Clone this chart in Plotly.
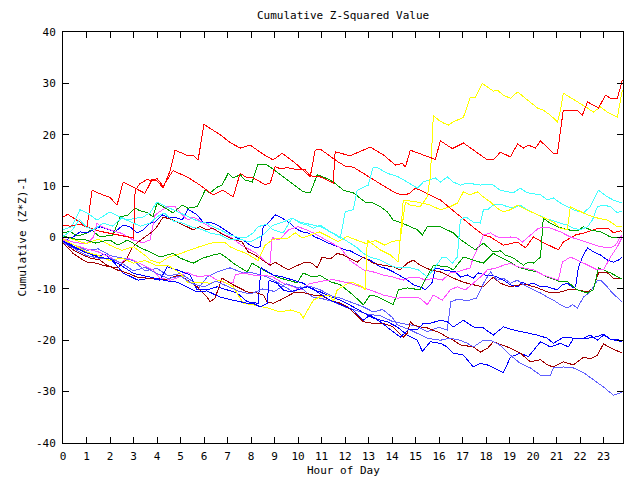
import plotly.graph_objects as go

# ---------------- data (hour of day, cumulative (Z*Z)-1) ----------------
hour_ticks = list(range(24))
value_ticks = [-40, -30, -20, -10, 0, 10, 20, 30, 40]

red1_h = [0, 0.2, 0.72, 1.02, 1.24, 1.58, 2.0, 2.3, 2.56, 2.98, 3.49, 3.79, 4.0, 4.26, 4.56, 4.77, 5.28, 5.54, 5.75, 6.0, 6.39, 6.69, 7.11, 7.54, 7.96, 8.52, 8.94, 9.33, 9.88, 10.52, 10.73, 10.95, 11.71, 12.01, 12.35, 13.07, 13.8, 14.22, 14.57, 14.78, 14.99, 15.2, 15.76, 16.06, 16.48, 16.91, 17.46, 17.89, 18.19, 18.74, 19.34, 19.68, 20.02, 20.4, 21.08, 21.29, 21.81, 22.19, 22.79, 23.21, 23.42, 23.72, 23.8]
red1_v = [4.0, 4.5, 3.0, 2.0, 9.2, 8.5, 7.8, 6.3, 10.8, 9.8, 8.6, 11.3, 11.0, 9.7, 13.0, 17.0, 16.0, 16.0, 15.1, 22.0, 20.8, 20.0, 18.5, 17.4, 18.0, 16.2, 15.1, 16.4, 14.5, 11.8, 17.0, 17.2, 14.7, 13.9, 13.7, 11.6, 9.6, 8.5, 8.3, 8.7, 9.6, 9.2, 7.9, 7.3, 5.7, 4.0, 2.0, 0.5, 0.1, -1.5, -0.9, -2.0, 0.1, -0.9, -2.4, -0.9, 0.5, 0.9, 1.8, 1.8, 0.9, 1.3, 1.2]

red2_h = [0, 0.3, 0.72, 1.02, 1.58, 2.0, 2.43, 3.0, 3.07, 3.28, 3.58, 3.79, 4.0, 4.26, 4.68, 5.28, 5.83, 6.39, 6.81, 7.24, 7.54, 7.84, 8.09, 8.6, 8.82, 9.03, 9.24, 9.54, 9.97, 10.3, 10.52, 10.95, 11.5, 11.58, 12.22, 12.65, 13.07, 13.63, 14.14, 14.44, 14.57, 14.78, 15.5, 15.84, 16.06, 16.57, 17.04, 18.06, 18.31, 18.61, 19.04, 19.34, 19.59, 19.8, 20.1, 20.32, 20.87, 21.04, 21.29, 21.89, 22.1, 22.32, 22.79, 23.08, 23.3, 23.59, 23.8]
red2_v = [2.4, 2.2, 2.6, 2.0, 1.2, 0.8, 0.5, -0.1, 9.2, 10.5, 11.3, 11.0, 11.5, 10.0, 13.0, 11.8, 10.2, 8.3, 9.2, 7.9, 12.5, 11.6, 11.6, 10.3, 10.6, 13.8, 13.4, 13.6, 13.2, 13.2, 12.0, 11.8, 10.6, 16.7, 15.9, 16.7, 17.6, 16.1, 14.1, 14.4, 13.7, 17.0, 15.7, 15.2, 18.8, 17.3, 18.4, 15.1, 15.1, 16.6, 15.7, 18.2, 17.4, 18.0, 17.4, 18.8, 16.4, 16.4, 24.8, 24.8, 23.8, 26.4, 25.2, 27.7, 27.1, 27.1, 30.6]

green1_h = [0, 0.3, 0.6, 1.0, 1.2, 1.58, 2.13, 2.43, 2.77, 3.07, 3.28, 3.62, 3.83, 4.0, 4.26, 4.68, 5.07, 5.32, 5.71, 6.05, 6.26, 6.56, 6.77, 7.03, 7.24, 7.54, 7.75, 8.05, 8.3, 8.6, 8.82, 9.11, 9.37, 9.67, 9.97, 10.22, 10.52, 10.82, 10.95, 11.37, 11.67, 11.93, 12.35, 12.65, 12.86, 13.2, 13.5, 13.8, 14.05, 14.44, 14.78, 15.08, 15.29, 15.5, 16.06, 16.35, 16.61, 16.91, 17.55, 17.89, 18.31, 18.61, 18.82, 19.17, 19.59, 19.8, 20.02, 20.32, 20.44, 20.66, 21.04, 21.46, 21.89, 22.15, 22.44, 22.87, 23.3, 23.8]
green1_v = [0.9, 1.2, 0.3, 0.8, 1.5, 0.1, 0.5, 4.0, 4.4, 5.7, 5.2, 4.8, 4.0, 6.7, 6.0, 4.8, 6.3, 5.7, 6.0, 9.2, 8.7, 9.8, 10.2, 12.5, 11.6, 12.2, 11.2, 10.8, 14.3, 14.3, 13.7, 12.7, 11.8, 10.8, 9.6, 8.9, 8.7, 12.2, 12.0, 11.2, 10.2, 9.2, 8.7, 7.7, 6.9, 6.7, 6.0, 5.0, 3.4, 2.8, 2.1, 1.5, 0.5, 2.1, 2.1, 1.5, 0.9, -0.4, -2.4, -1.1, -2.8, -2.6, -3.4, -4.0, -5.4, -4.8, -5.0, -3.8, 3.8, 3.0, 2.1, 1.5, 1.3, 2.1, 1.5, 1.1, 0.1, -0.1]

green2_h = [0, 0.5, 1.0, 1.4, 1.8, 2.0, 2.34, 2.73, 2.98, 3.28, 3.7, 4.13, 4.68, 4.98, 5.54, 5.96, 6.39, 6.69, 6.98, 7.24, 7.84, 8.05, 8.52, 9.11, 9.54, 9.97, 10.22, 10.6, 10.95, 11.37, 11.8, 12.35, 12.78, 13.07, 13.37, 13.93, 14.05, 14.27, 14.65, 15.2, 15.33, 15.76, 16.35, 16.61, 17.04, 17.46, 17.89, 18.31, 18.61, 19.04, 19.34, 19.76, 20.19, 20.61, 21.17, 21.46, 21.89, 22.32, 22.57, 22.79, 23.3, 23.8]
green2_v = [0.3, -0.3, -0.5, -1.1, -0.6, -0.5, -1.5, -0.5, -1.1, -2.0, -2.8, -3.8, -3.1, -4.0, -5.0, -4.0, -3.4, -3.1, -4.0, -5.0, -6.7, -5.0, -6.3, -7.7, -8.3, -8.8, -6.9, -7.7, -7.4, -8.6, -9.2, -11.2, -13.1, -11.2, -11.5, -12.8, -13.1, -10.2, -9.8, -10.2, -8.9, -5.4, -5.7, -6.3, -3.8, -4.4, -5.0, -3.1, -3.8, -4.8, -5.7, -6.3, -6.7, -7.7, -8.6, -8.6, -10.2, -10.8, -10.2, -5.9, -6.9, -8.1]

blue1_h = [0, 0.2, 0.43, 0.72, 1.02, 1.28, 1.58, 2.0, 2.21, 2.56, 2.85, 3.15, 3.41, 3.7, 3.92, 4.22, 4.47, 4.86, 5.07, 5.32, 5.71, 5.96, 6.39, 6.69, 7.11, 7.41, 7.67, 7.96, 8.18, 8.39, 8.52, 8.73, 9.03, 9.24, 9.45, 9.67, 9.88, 10.18, 10.43, 10.73, 11.03, 11.29, 11.71, 12.01, 12.22, 12.78, 13.07, 13.5, 13.8, 14.22, 14.65, 14.91, 15.29, 15.42, 15.72, 15.84, 16.18, 16.7, 16.91, 17.21, 17.46, 17.67, 17.97, 18.19, 18.48, 18.74, 19.04, 19.34, 19.55, 19.76, 20.02, 20.32, 20.61, 21.04, 21.25, 21.46, 21.72, 21.81, 21.93, 22.1, 22.32, 22.57, 22.87, 23.17, 23.42, 23.64, 23.8]
blue1_v = [-0.8, -0.3, 0.1, 1.1, 0.9, 1.5, 2.1, 1.5, 1.1, 2.4, 2.1, 0.9, 1.5, 2.8, 3.0, 4.4, 4.0, 3.8, 3.4, 5.5, 4.4, 3.0, 2.8, 2.1, 0.9, -0.1, -0.5, -1.5, -2.0, -1.8, 2.1, 2.8, 4.4, 4.0, 3.4, 2.8, 1.8, 1.1, 0.9, 0.1, -0.5, -1.1, -1.8, -2.4, -2.6, -3.9, -4.4, -5.7, -6.1, -7.1, -8.3, -9.2, -9.8, -10.2, -8.7, -5.9, -6.3, -6.7, -7.7, -7.3, -7.9, -6.9, -7.3, -7.3, -7.7, -8.3, -9.2, -9.6, -8.7, -9.2, -8.9, -9.6, -9.6, -10.2, -9.2, -8.9, -9.8, -9.6, -5.9, -3.8, -2.0, -2.8, -3.4, -4.4, -4.8, -4.4, -3.8]

blue2_h = [0, 0.5, 1.0, 1.4, 1.8, 2.2, 2.56, 3.19, 3.7, 4.13, 4.43, 4.86, 5.41, 5.71, 6.13, 6.56, 6.98, 7.41, 7.84, 8.18, 8.3, 8.43, 8.94, 9.37, 9.8, 10.22, 10.65, 10.95, 11.37, 11.8, 12.35, 12.78, 13.2, 13.8, 14.22, 14.65, 15.08, 15.29, 15.63, 16.06, 16.35, 16.61, 17.04, 17.46, 17.76, 18.06, 18.31, 18.74, 19.04, 19.46, 19.8, 20.32, 20.74, 21.17, 21.51, 21.72, 22.32, 22.74, 23.0, 23.3, 23.8]
blue2_v = [-0.6, -1.8, -3.0, -3.6, -3.3, -5.0, -6.9, -8.3, -7.9, -8.3, -5.7, -6.3, -7.3, -10.2, -10.2, -9.6, -10.2, -10.8, -12.5, -12.8, -12.8, -5.9, -7.3, -7.7, -8.3, -8.9, -10.2, -10.6, -11.5, -12.2, -13.5, -14.7, -15.7, -16.4, -17.4, -19.0, -20.0, -22.2, -20.3, -20.6, -21.3, -22.5, -22.9, -25.2, -24.5, -24.8, -25.4, -26.3, -23.3, -22.5, -23.2, -20.3, -21.3, -20.6, -21.3, -19.6, -19.6, -19.3, -18.8, -19.8, -20.0]

blue3_h = [0, 0.5, 1.0, 1.5, 2.0, 2.5, 3.0, 3.5, 4.0, 4.5, 4.86, 5.28, 5.71, 6.13, 6.69, 7.24, 7.84, 8.09, 8.39, 8.69, 8.77, 9.11, 9.37, 9.67, 9.97, 10.39, 10.65, 10.95, 11.37, 11.8, 12.35, 12.78, 13.07, 13.5, 13.93, 14.35, 14.69, 15.08, 15.33, 15.63, 16.06, 16.35, 16.61, 17.04, 17.46, 17.89, 18.31, 18.74, 19.17, 19.76, 20.19, 20.61, 20.87, 21.29, 21.72, 22.15, 22.44, 22.74, 23.0, 23.3, 23.8]
blue3_v = [-0.8, -2.0, -3.0, -3.8, -4.2, -5.5, -7.0, -7.5, -7.9, -8.5, -8.7, -9.6, -10.6, -10.4, -11.6, -12.2, -12.8, -12.8, -13.5, -12.8, -8.3, -8.9, -10.2, -10.6, -10.2, -9.6, -10.0, -11.0, -12.2, -13.1, -14.1, -16.1, -15.1, -16.4, -18.0, -19.4, -18.0, -18.0, -16.7, -16.7, -16.1, -16.4, -17.4, -16.1, -17.4, -17.6, -19.0, -17.4, -18.0, -18.6, -19.0, -19.6, -20.6, -19.4, -19.6, -19.6, -19.0, -20.0, -19.0, -19.8, -20.3]

magenta1_h = [0, 0.5, 1.0, 1.3, 1.45, 1.6, 2.0, 2.5, 3.0, 3.4, 3.7, 3.92, 4.43, 4.77, 5.07, 5.32, 5.54, 5.83, 6.39, 6.69, 7.11, 7.6, 8.2, 8.8, 8.9, 9.2, 9.6, 10.0, 10.3, 10.7, 11.0, 11.3, 11.8, 12.22, 12.78, 13.2, 13.63, 14.05, 14.48, 14.78, 15.08, 15.42, 15.76, 16.14, 16.48, 16.78, 17.04, 17.33, 17.46, 17.76, 17.89, 18.19, 18.4, 18.61, 19.04, 19.34, 19.55, 19.76, 20.02, 20.23, 20.44, 20.66, 20.87, 21.17, 21.59, 22.02, 22.44, 22.87, 23.3, 23.51, 23.72, 23.8]
magenta1_v = [-0.2, -1.0, -1.2, 0.1, 2.8, 2.2, 1.5, 0.8, -0.5, -1.0, -0.5, 4.4, 6.0, 6.0, 4.4, 3.4, 4.0, 3.2, 1.8, 0.9, 0.1, -1.5, -3.0, -5.4, 0.0, -0.5, 1.5, 2.1, 1.6, 0.8, 0.0, -0.8, -2.0, -4.5, -6.3, -6.7, -7.3, -7.7, -8.3, -7.7, -7.7, -8.3, -7.9, -8.3, -6.9, -6.7, -6.3, -5.9, -3.8, -1.1, 0.5, 0.9, 0.3, -0.1, 0.1, -0.1, -0.9, -0.1, 0.9, 1.8, 2.0, 2.0, 1.6, 1.1, 0.1, -0.5, -1.1, -1.8, -2.0, -1.5, 0.1, 0.5]

magenta2_h = [0, 0.5, 1.0, 1.5, 2.0, 2.43, 2.73, 2.98, 3.41, 3.83, 4.13, 4.56, 4.86, 5.28, 5.54, 5.83, 6.18, 6.56, 6.98, 7.24, 7.33, 7.67, 8.09, 8.52, 8.94, 9.37, 9.8, 10.09, 10.5, 11.0, 11.5, 12.2, 12.6, 13.07, 13.63, 14.22, 14.78, 15.2, 15.5, 15.76, 16.14, 16.48, 16.78, 17.12, 17.46, 17.76, 18.06, 18.48, 18.74, 19.04, 19.34, 19.59, 20.02, 20.44, 20.87, 21.08, 21.25, 21.59, 21.89, 22.15, 22.44, 22.74, 23.0, 23.3, 23.59, 23.8]
magenta2_v = [-0.5, -1.5, -2.2, -2.8, -3.8, -5.0, -4.0, -4.4, -5.4, -6.3, -7.9, -8.3, -7.9, -6.7, -7.3, -7.7, -7.3, -8.3, -8.9, -8.7, -7.3, -6.9, -7.3, -7.3, -7.7, -8.9, -9.6, -10.2, -9.0, -8.5, -8.2, -8.9, -9.5, -10.2, -11.2, -11.8, -11.6, -11.8, -13.1, -11.2, -12.2, -10.2, -9.6, -10.2, -8.9, -7.7, -6.3, -5.9, -5.4, -5.0, -5.7, -5.9, -6.3, -7.3, -7.9, -8.3, -4.8, -3.8, -4.4, -5.0, -5.7, -6.3, -6.3, -3.8, -1.8, 0.1]

cyan1_h = [0, 0.38, 0.72, 1.02, 1.45, 2.0, 2.43, 2.73, 3.15, 3.41, 3.7, 4.0, 4.26, 4.68, 4.98, 5.41, 5.83, 6.13, 6.39, 6.69, 7.11, 7.54, 7.84, 8.09, 8.3, 8.69, 8.94, 9.37, 9.75, 10.09, 10.73, 10.95, 11.37, 11.8, 12.01, 12.35, 12.52, 12.99, 13.2, 13.42, 13.8, 14.27, 14.65, 15.08, 15.33, 15.84, 16.06, 16.35, 16.61, 16.91, 17.21, 17.76, 18.06, 18.31, 18.61, 19.17, 19.46, 19.76, 20.32, 20.61, 20.87, 21.17, 21.46, 21.72, 22.15, 22.44, 22.79, 23.17, 23.42, 23.8]
cyan1_v = [1.5, 2.1, 5.4, 4.8, 3.4, 5.0, 4.0, 3.4, 3.8, 4.0, 4.8, 6.9, 6.3, 5.4, 4.8, 3.8, 3.0, 2.8, 2.1, 1.5, 0.5, -0.1, 0.1, 0.9, 2.1, 2.6, 1.5, 0.9, 3.8, 3.0, 2.4, 2.1, 1.1, -0.1, 5.0, 5.4, 9.2, 10.2, 13.7, 13.5, 12.5, 11.8, 10.8, 9.6, 10.8, 11.6, 10.8, 11.8, 10.8, 10.2, 10.6, 10.2, 10.4, 10.2, 9.2, 8.7, 9.6, 8.7, 8.3, 7.3, 7.7, 6.7, 6.0, 5.4, 4.8, 6.0, 9.2, 7.9, 7.3, 6.7]

cyan2_h = [0, 0.4, 0.7, 1.0, 1.3, 1.7, 2.1, 2.5, 2.9, 3.3, 3.7, 4.0, 4.3, 4.7, 5.1, 5.5, 5.9, 6.3, 6.7, 7.1, 7.5, 7.96, 8.52, 8.94, 9.37, 9.75, 10.09, 10.39, 10.65, 10.95, 11.37, 11.8, 12.22, 12.52, 12.78, 13.07, 13.5, 14.05, 14.35, 14.78, 15.12, 15.5, 15.76, 16.14, 16.35, 16.57, 16.78, 16.91, 17.04, 17.21, 17.46, 17.76, 17.89, 18.06, 18.31, 18.61, 18.91, 19.17, 19.46, 19.76, 20.02, 20.32, 20.61, 21.17, 21.46, 21.72, 22.02, 22.32, 22.53, 22.74, 23.0, 23.3, 23.59, 23.8]
cyan2_v = [0.2, 1.5, 3.5, 2.0, 1.5, 2.8, 2.2, 3.8, 3.0, 2.2, 2.8, 4.0, 4.8, 3.2, 2.8, 2.0, 1.6, 0.8, 0.5, -0.5, -0.3, -0.9, 0.5, 2.4, 3.0, 3.8, 2.8, 2.4, 1.8, 2.4, 1.1, 0.1, -1.1, -2.0, -3.1, -3.8, -4.4, -5.7, -5.9, -5.9, -6.3, -7.7, -6.3, -3.8, -4.0, -5.0, -3.8, 3.4, 3.8, 3.8, 3.0, 2.8, 5.4, 5.4, 6.3, 6.5, 6.0, 5.7, 6.3, 5.4, 4.8, 4.2, 3.6, 2.8, 2.4, 1.8, 1.5, 2.1, 3.4, 6.0, 6.3, 6.0, 4.8, 5.2]

darkred1_h = [0, 0.43, 0.72, 1.02, 1.45, 1.7, 2.0, 2.34, 2.73, 2.94, 3.19, 3.49, 3.79, 4.0, 4.26, 4.68, 5.11, 5.54, 5.83, 6.13, 6.39, 6.69, 7.11, 7.62, 7.88, 8.18, 8.48, 8.82, 9.03, 9.33, 9.58, 9.75, 10.0, 10.3, 10.6, 10.82, 11.03, 11.37, 11.67, 11.93, 12.35, 12.52, 12.78, 13.2, 13.63, 14.05, 14.35, 14.65, 14.91, 15.2, 15.63, 16.06, 16.61, 17.04, 17.46, 17.89, 18.31, 18.61, 19.04, 19.46, 19.76, 20.19, 20.61, 20.87, 21.17, 21.46, 21.89, 22.32, 22.57, 22.79, 23.17, 23.42, 23.8]
darkred1_v = [-1.0, -3.1, -4.0, -4.8, -5.0, -5.4, -5.7, -5.9, -4.0, -2.0, -0.9, 0.1, 1.1, 2.1, 4.0, 3.4, 2.4, 1.5, 2.1, 1.5, 1.8, 0.9, -0.1, -0.9, -2.8, -3.4, -4.4, -5.4, -4.8, -5.7, -6.3, -5.9, -5.4, -4.8, -5.0, -5.9, -3.8, -4.2, -3.1, -3.4, -4.4, -4.8, -3.8, -5.0, -5.4, -5.7, -6.3, -5.0, -4.4, -5.4, -6.3, -6.7, -7.9, -8.7, -9.2, -9.6, -7.7, -8.9, -9.6, -9.2, -9.2, -9.8, -10.6, -10.8, -10.6, -10.2, -10.2, -10.6, -9.8, -6.9, -6.9, -7.9, -7.9]

darkred2_h = [0, 0.43, 0.85, 1.15, 1.58, 1.87, 2.3, 2.73, 3.15, 3.58, 4.0, 4.26, 4.68, 4.98, 5.28, 5.71, 6.13, 6.26, 6.47, 6.77, 7.24, 7.84, 8.26, 8.52, 8.69, 8.94, 9.24, 9.54, 9.8, 10.09, 10.65, 10.95, 11.37, 11.8, 12.1, 12.35, 12.78, 13.2, 13.63, 14.05, 14.48, 14.65, 14.78, 14.91, 15.2, 15.5, 16.06, 16.35, 16.61, 16.91, 17.46, 17.76, 18.06, 18.31, 18.91, 19.46, 19.89, 20.32, 20.61, 20.87, 21.29, 21.72, 22.15, 22.44, 22.74, 23.0, 23.3, 23.8]
darkred2_v = [-0.9, -2.4, -3.4, -4.0, -4.4, -5.4, -6.3, -6.9, -7.7, -7.9, -7.9, -8.3, -7.7, -7.3, -8.3, -9.6, -11.6, -12.5, -11.8, -7.9, -9.2, -10.6, -10.8, -11.2, -12.5, -12.8, -12.2, -11.5, -10.8, -10.6, -11.2, -11.2, -12.2, -12.8, -13.5, -14.5, -16.4, -16.7, -16.7, -17.4, -19.4, -18.6, -16.4, -17.0, -17.4, -17.6, -18.6, -19.4, -20.0, -20.9, -21.3, -22.3, -21.6, -20.3, -21.3, -22.5, -24.2, -23.8, -24.8, -25.2, -24.2, -24.8, -23.3, -23.6, -22.9, -20.7, -21.5, -22.5]

yellow1_h = [0, 0.5, 1.0, 1.5, 2.0, 2.5, 3.0, 3.5, 3.7, 4.1, 4.5, 5.0, 5.4, 5.8, 6.3, 6.6, 6.9, 7.1, 7.4, 7.8, 8.3, 8.6, 8.9, 9.15, 9.58, 9.88, 10.18, 10.5, 10.9, 11.3, 11.7, 12.1, 12.5, 12.9, 13.3, 13.7, 14.0, 14.35, 14.57, 14.78, 15.2, 15.5, 15.63, 15.76, 15.97, 16.18, 16.4, 16.61, 17.04, 17.33, 17.55, 17.84, 18.06, 18.31, 18.48, 18.74, 19.04, 19.34, 19.46, 19.76, 20.19, 20.44, 20.74, 21.04, 21.17, 21.29, 21.59, 21.89, 22.15, 22.32, 22.57, 22.87, 23.17, 23.59, 23.8]
yellow1_v = [0.3, -0.5, -1.2, -0.3, -1.5, -2.5, -1.8, -3.5, -4.4, -5.0, -3.8, -3.1, -2.4, -1.8, -1.1, -0.9, -1.0, -1.8, -2.4, -3.1, -4.5, -1.5, -0.5, -0.1, -0.1, 0.9, -0.1, 0.4, 1.1, 0.2, -0.8, 0.2, -0.5, -1.2, -0.6, -1.5, -0.8, -0.5, 6.9, 6.3, 6.0, 7.9, 11.8, 23.8, 22.9, 22.3, 21.9, 22.5, 23.4, 27.3, 27.3, 30.0, 29.3, 28.5, 28.7, 27.7, 27.1, 28.3, 27.9, 26.8, 25.2, 24.8, 23.8, 22.5, 24.8, 28.1, 27.3, 26.4, 25.8, 25.2, 24.4, 25.4, 24.4, 23.4, 28.7]

yellow2_h = [0, 0.5, 1.0, 1.5, 2.0, 2.5, 3.0, 3.5, 4.0, 4.5, 5.0, 5.3, 5.83, 6.26, 6.69, 7.24, 7.67, 8.09, 8.69, 9.24, 9.67, 10.09, 10.22, 10.65, 10.95, 11.37, 11.5, 11.67, 12.14, 12.31, 12.74, 12.86, 12.95, 13.5, 13.93, 14.27, 14.48, 15.08, 15.63, 16.06, 16.48, 16.78, 17.04, 17.33, 17.63, 17.89, 18.19, 18.48, 18.74, 19.04, 19.34, 19.59, 20.02, 20.44, 20.87, 21.17, 21.46, 21.59, 21.89, 22.32, 22.74, 23.17, 23.59, 23.8]
yellow2_v = [-0.3, -1.5, -2.8, -3.5, -4.5, -4.0, -5.0, -4.5, -5.5, -5.5, -7.0, -8.7, -8.7, -8.9, -8.3, -9.6, -12.8, -13.1, -13.7, -14.5, -14.1, -14.7, -15.7, -12.2, -11.5, -11.2, -12.5, -10.2, -8.9, -8.7, -9.6, -10.2, -0.5, -2.4, -3.4, -4.8, 7.3, 6.9, 6.3, 5.4, 6.0, 6.7, 8.9, 8.3, 8.9, 7.9, 6.9, 5.7, 5.0, 5.4, 6.3, 5.7, 4.8, 4.0, 3.0, 1.8, 1.5, 6.0, 5.4, 4.4, 3.8, 3.4, 2.1, 2.1]

slate1_h = [0, 0.5, 1.0, 1.5, 2.0, 2.5, 3.0, 3.5, 4.0, 4.5, 5.0, 5.5, 5.71, 6.13, 6.56, 7.11, 7.54, 8.09, 8.69, 9.11, 9.54, 9.8, 10.09, 10.39, 10.65, 10.95, 11.5, 12.0, 12.5, 13.0, 13.5, 14.0, 14.5, 15.0, 15.5, 16.0, 16.35, 16.5, 16.8, 17.2, 17.6, 17.9, 18.19, 18.48, 18.74, 19.04, 19.34, 19.59, 20.02, 20.32, 20.61, 20.87, 21.17, 21.46, 21.68, 21.89, 22.15, 22.44, 22.74, 22.87, 23.08, 23.38, 23.8]
slate1_v = [-0.5, -1.5, -2.5, -2.2, -3.5, -4.0, -4.5, -6.5, -6.0, -7.5, -7.0, -8.5, -10.2, -7.7, -6.7, -5.9, -6.7, -6.9, -7.7, -8.7, -9.8, -10.6, -9.6, -10.8, -11.6, -11.8, -12.5, -13.5, -14.2, -15.0, -15.2, -16.3, -16.8, -17.2, -18.3, -17.5, -18.0, -12.5, -12.0, -12.3, -11.8, -8.9, -6.7, -8.3, -7.9, -8.9, -8.3, -9.2, -10.2, -10.8, -11.6, -12.2, -13.1, -13.7, -13.1, -13.7, -11.6, -10.6, -8.3, -8.3, -9.2, -10.8, -12.6]

slate2_h = [0, 0.5, 1.0, 1.5, 2.0, 2.5, 3.0, 3.5, 4.0, 4.5, 5.0, 5.5, 6.0, 6.5, 7.0, 7.5, 8.0, 8.5, 9.0, 9.5, 10.0, 10.5, 10.95, 11.5, 11.8, 12.35, 12.78, 13.2, 13.6, 14.0, 14.22, 14.78, 15.2, 15.5, 16.06, 16.48, 16.91, 17.21, 17.46, 17.89, 18.19, 18.61, 19.04, 19.46, 19.89, 20.32, 20.74, 20.87, 21.29, 21.72, 22.15, 22.57, 23.0, 23.42, 23.8]
slate2_v = [-1.0, -2.2, -3.5, -4.0, -4.0, -5.0, -6.5, -5.8, -7.0, -8.0, -7.5, -9.0, -9.6, -8.5, -9.5, -10.5, -11.0, -10.0, -10.5, -9.0, -9.8, -9.5, -10.2, -11.5, -11.8, -12.8, -13.5, -14.5, -14.0, -15.5, -17.0, -18.0, -19.0, -19.6, -20.0, -19.6, -20.0, -20.6, -21.3, -20.0, -20.0, -21.0, -22.9, -24.5, -25.4, -26.8, -26.8, -25.4, -25.2, -25.4, -26.3, -27.7, -29.1, -30.7, -30.1]

# ---------------- styling ----------------
RED, GREEN, BLUE, MAGENTA = "#ff0000", "#00a000", "#0000ff", "#ff50ff"
CYAN, DARKRED, YELLOW, SLATE = "#40ffff", "#a00000", "#ffff00", "#6060ff"

series = [
    (red1_h, red1_v, RED), (green1_h, green1_v, GREEN), (blue1_h, blue1_v, BLUE),
    (magenta1_h, magenta1_v, MAGENTA), (cyan1_h, cyan1_v, CYAN),
    (darkred1_h, darkred1_v, DARKRED), (yellow1_h, yellow1_v, YELLOW),
    (slate1_h, slate1_v, SLATE),
    (red2_h, red2_v, RED), (green2_h, green2_v, GREEN), (blue2_h, blue2_v, BLUE),
    (magenta2_h, magenta2_v, MAGENTA), (cyan2_h, cyan2_v, CYAN),
    (darkred2_h, darkred2_v, DARKRED), (yellow2_h, yellow2_v, YELLOW),
    (slate2_h, slate2_v, SLATE), (blue3_h, blue3_v, BLUE),
]

fig = go.Figure()
for hs, vs, col in series:
    if len(hs) != len(vs):
        raise ValueError("length mismatch %d %d %s" % (len(hs), len(vs), col))
    fig.add_trace(go.Scatter(x=hs, y=vs, mode="lines",
                             line=dict(color=col, width=1),
                             hoverinfo="skip", showlegend=False))

FONT = "DejaVu Sans Mono"
axis_common = dict(
    ticks="inside", ticklen=6, tickwidth=1, tickcolor="black",
    showline=True, linecolor="black", linewidth=1, mirror="ticks",
    showgrid=False, zeroline=False,
    tickfont=dict(family=FONT, size=11, color="black"),
)

fig.update_layout(
    width=640, height=480,
    margin=dict(l=63, r=17, t=32, b=37),
    paper_bgcolor="white", plot_bgcolor="white",
    showlegend=False,
    font=dict(family=FONT, size=11, color="black"),
    xaxis=dict(range=[0, 23.83], tickmode="array", tickvals=hour_ticks,
               ticktext=[str(t) for t in hour_ticks], ticklabelstandoff=3,
               **axis_common),
    yaxis=dict(range=[-40, 40], tickmode="array", tickvals=value_ticks,
               ticktext=[str(t) for t in value_ticks], ticklabelstandoff=4,
               **axis_common),
    title=dict(text="Cumulative Z-Squared Value", x=0.536, xanchor="center",
               y=1 - 15 / 480, yanchor="middle",
               font=dict(family=FONT, size=11, color="black")),
    annotations=[
        dict(text="Hour of Day", xref="paper", yref="paper", x=0.5, y=-0.066,
             xanchor="center", yanchor="middle", showarrow=False,
             font=dict(family=FONT, size=11, color="black")),
        dict(text="Cumulative (Z*Z)-1", xref="paper", yref="paper", x=-0.073, y=0.5,
             xanchor="center", yanchor="middle", textangle=-90, showarrow=False,
             font=dict(family=FONT, size=11, color="black")),
    ],
)

# crisp, non-antialiased 1px strokes like the original bitmap output
crisp = """
document.querySelectorAll('.scatterlayer path, .xtick, .ytick, .xlines-above, .ylines-above, path.xtick, path.ytick').forEach(function(p){
  p.style.shapeRendering = 'crispEdges';
});
"""
fig.write_html("out.html", post_script=crisp)
